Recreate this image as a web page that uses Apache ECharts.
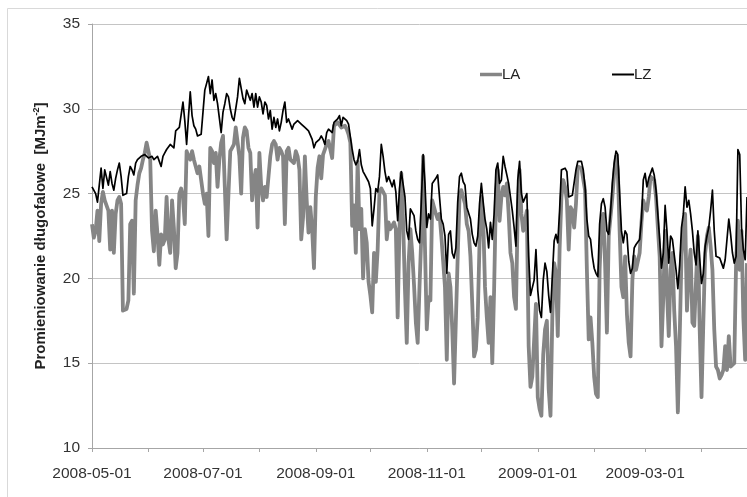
<!DOCTYPE html>
<html lang="pl">
<head>
    <meta charset="UTF-8">
    <meta name="viewport" content="width=device-width, initial-scale=1.0">
    <script src="https://cdn.jsdelivr.net/npm/echarts@6/dist/echarts.min.js"></script>
    <style>
        html, body { margin: 0; padding: 0; background: #fff; }
        #chart { width: 747px; height: 497px; }
    </style>
    <title>LA / LZ</title>
</head>
<body>
<div id="chart"></div>
<script type="text/javascript">
    // dzienne wartosci od 2008-05-01
    var tickLabels = ['2008-05-01', '2008-07-01', '2008-09-01', '2008-11-01', '2009-01-01', '2009-03-01'];

    var seriesLA = [
        23.2, 22.4, 22.8, 24.0, 22.2, 24.4, 25.1, 24.6, 24.7, 24.0,
        21.7, 24.0, 21.5, 23.8, 24.6, 24.8, 24.4, 18.1, 18.1, 18.2,
        18.7, 23.2, 23.4, 19.1, 24.6, 25.5, 26.2, 26.5, 27.0, 27.4,
        28.0, 28.1, 27.0, 22.8, 21.6, 24.0, 22.6, 20.8, 22.6, 22.0,
        22.3, 24.8, 22.3, 21.5, 24.6, 23.0, 20.6, 21.5, 25.0, 25.3,
        24.8, 23.2, 27.5, 27.2, 27.0, 27.5, 27.0, 26.6, 26.2, 26.6,
        25.8, 25.0, 24.4, 25.0, 22.5, 27.7, 27.5, 26.8, 27.4, 25.4,
        27.0, 28.0, 28.4, 25.4, 22.3, 25.0, 27.5, 27.7, 27.9, 28.9,
        29.0, 27.2, 25.0, 28.3, 28.9, 28.7, 27.7, 27.4, 24.6, 25.8,
        26.4, 23.0, 27.4, 25.4, 24.6, 25.4, 24.8, 26.0, 27.2, 27.9,
        28.1, 27.9, 27.0, 27.7, 27.5, 27.2, 23.2, 27.5, 27.7, 27.0,
        26.9, 26.8, 27.5, 27.2, 26.4, 22.3, 23.6, 27.2, 24.6, 22.7,
        24.2, 22.9, 20.6, 24.8, 26.5, 27.2, 25.9, 27.3, 27.4, 27.9,
        28.1, 28.2, 27.1, 29.0, 29.1, 29.2, 29.2, 28.9, 28.9, 29.0,
        28.8, 28.5, 28.0, 23.1, 24.3, 21.5, 26.9, 22.9, 24.1, 20.0,
        22.9, 22.1, 19.8, 19.0, 18.0, 21.5, 19.8, 21.7, 25.1, 25.3,
        25.1, 24.9, 22.3, 23.3, 22.9, 23.0, 23.3, 22.9, 17.7, 22.9,
        26.2, 23.3, 19.4, 16.2, 20.9, 22.9, 21.5, 19.6, 17.4, 16.2,
        19.5, 22.5, 27.2, 21.9, 17.0, 18.9, 18.7, 24.6, 24.2, 23.8,
        23.5, 23.8, 22.5, 21.0, 19.5, 15.2, 20.3, 19.5, 17.0, 13.8,
        13.8, 21.3, 24.8, 25.2, 24.8, 24.4, 23.2, 22.8, 21.3, 18.5,
        15.4, 15.8, 17.7, 22.1, 24.8, 23.6, 19.5, 17.7, 16.2, 18.9,
        15.0, 19.3, 24.8, 26.4, 23.4, 24.8, 25.4, 24.9, 25.6, 23.8,
        21.5, 20.9, 18.9, 18.2, 24.0, 26.4, 23.8, 22.8, 23.4, 24.0,
        16.0, 13.6, 14.2, 14.1, 18.5, 13.0, 12.3, 11.9, 15.5, 17.0,
        17.5, 13.5, 11.9, 17.7, 20.9, 20.3, 16.6, 21.7, 24.8, 25.8,
        25.4, 24.6, 21.7, 24.2, 24.0, 23.0, 24.4, 26.6, 26.6, 26.5,
        26.4, 25.2, 20.5, 16.4, 17.7, 16.2, 14.2, 13.2, 13.0, 20.5,
        23.4, 23.8, 20.9, 16.8, 22.5, 22.6, 24.8, 26.2, 27.2, 26.4,
        22.8, 19.5, 18.9, 21.3, 17.9, 16.2, 15.4, 19.9, 21.3, 20.5,
        20.5, 21.5, 23.3, 24.6, 24.2, 24.0, 24.8, 26.0, 26.0, 25.8,
        24.8, 23.0, 21.3, 16.0, 18.9, 22.8, 19.3, 16.6, 20.5, 21.5,
        18.1, 16.0, 12.1, 16.5, 21.3, 22.8, 23.8, 18.1, 20.5, 21.7,
        17.4, 17.2, 19.9, 22.5, 17.0, 13.0, 17.4, 21.5, 22.5, 23.0,
        21.9, 20.5, 17.0, 14.8, 14.6, 14.1, 14.3, 14.6, 16.0, 14.6,
        16.6, 14.8, 14.9, 15.0, 20.9, 23.4, 20.5, 22.8, 17.7, 15.2,
        20.9
    ];

    var seriesLZ = [
        25.4, 25.3, 25.0, 24.5, 24.6, 26.5, 25.3, 26.4, 26.5, 25.5,
        26.3, 25.6, 25.2, 25.9, 26.4, 26.8, 26.0, 24.9, 24.9, 25.0,
        26.0, 26.6, 26.4, 26.1, 26.8, 27.0, 27.1, 27.2, 27.2, 27.3,
        27.3, 27.1, 27.2, 27.2, 27.0, 27.1, 27.2, 26.9, 26.6, 27.2,
        27.4, 27.6, 27.6, 27.9, 27.8, 27.7, 28.7, 28.8, 28.9, 29.0,
        30.4, 29.3, 27.9, 29.5, 31.0, 29.6, 29.0, 28.8, 28.4, 28.4,
        28.5, 29.8, 31.1, 31.5, 31.9, 30.9, 31.7, 30.5, 30.9, 30.3,
        30.4, 28.6, 29.8, 30.3, 30.9, 30.7, 30.0, 29.5, 29.3, 29.3,
        30.7, 31.8, 31.2, 30.6, 30.3, 31.1, 30.8, 30.5, 30.9, 30.1,
        30.9, 30.1, 30.7, 30.4, 29.7, 30.4, 30.2, 29.4, 29.9, 28.8,
        29.5, 28.9, 29.4, 28.7, 29.2, 29.9, 30.4, 29.2, 29.4, 29.1,
        28.8, 29.1, 29.2, 29.3, 29.2, 29.1, 29.1, 28.9, 28.8, 28.7,
        28.6, 28.2, 27.7, 28.0, 28.1, 28.2, 28.4, 28.2, 27.9, 28.6,
        28.8, 28.9, 28.6, 29.2, 29.3, 29.4, 29.6, 29.0, 29.5, 29.6,
        29.3, 29.1, 29.0, 27.6, 27.0, 26.7, 26.9, 27.6, 26.7, 26.3,
        26.1, 26.0, 25.7, 25.3, 23.1, 24.1, 25.3, 25.1, 26.0, 27.9,
        27.2, 26.3, 25.7, 26.0, 26.1, 25.4, 25.8, 25.1, 23.4, 25.3,
        26.3, 26.3, 24.8, 22.8, 22.3, 24.1, 24.0, 23.7, 22.8, 22.3,
        22.1, 24.5, 27.3, 25.6, 23.0, 23.8, 23.5, 25.6, 25.5, 25.9,
        26.1, 26.2, 23.5, 23.2, 22.5, 20.3, 22.6, 22.8, 21.5, 21.2,
        21.8, 24.5, 26.0, 26.2, 25.7, 25.5, 24.2, 24.1, 23.5, 22.6,
        22.1, 21.9, 22.5, 24.4, 25.6, 24.5, 23.5, 22.9, 21.8, 23.3,
        22.3, 23.8, 26.4, 26.8, 25.6, 25.8, 27.2, 26.6, 26.1, 25.6,
        24.8, 24.0, 23.0, 21.9, 25.8, 26.9, 25.0, 24.5, 24.6, 25.0,
        21.3, 19.0, 19.1, 19.9, 21.7, 19.3, 18.1, 17.7, 19.9, 20.9,
        20.4, 19.0, 18.0, 17.9, 22.2, 22.6, 22.1, 24.0, 26.4, 26.5,
        26.5, 26.3, 24.8, 24.8, 24.9, 25.0, 26.4, 26.9, 26.8, 26.9,
        26.4, 25.4, 23.5, 22.5, 22.3, 21.3, 20.6, 20.3, 20.1, 23.2,
        24.4, 24.7, 24.2, 22.8, 22.6, 23.9, 25.6, 26.8, 27.5, 27.3,
        25.0, 22.8, 22.1, 22.8, 22.6, 21.0, 20.3, 20.6, 21.8, 22.0,
        22.1, 22.3, 23.5, 25.8, 26.2, 25.4, 25.9, 26.2, 26.5, 26.1,
        25.2, 23.8, 22.3, 20.6, 21.5, 24.3, 22.8, 20.9, 22.5, 22.3,
        22.3, 20.5, 19.4, 20.8, 23.0, 23.8, 25.4, 24.2, 24.6, 23.8,
        22.8, 21.5, 20.8, 22.8, 21.2, 19.7, 20.3, 21.9, 22.5, 23.0,
        24.0, 25.2, 22.8, 21.3, 21.3, 21.2, 20.9, 20.6, 21.1, 21.0,
        23.5, 22.6, 21.5, 20.9, 21.3, 27.6, 27.3, 23.0, 21.7, 21.1,
        24.8
    ];

    // kolejne dni jako kategorie osi X
    var days = [];
    var t0 = Date.UTC(2008, 4, 1);
    for (var i = 0; i < seriesLZ.length; i++) {
        days.push(new Date(t0 + i * 86400000).toISOString().slice(0, 10));
    }

    var chart = echarts.init(document.getElementById('chart'));
    var font = '"Liberation Sans", Arial, sans-serif';

    var option = {
        animation: false,
        backgroundColor: '#ffffff',
        textStyle: { fontFamily: font },
        graphic: [{
            type: 'rect',
            shape: { x: 7.5, y: 8.5, width: 800, height: 600 },
            style: { fill: 'none', stroke: '#d9d9d9', lineWidth: 1 },
            silent: true
        }],
        legend: [{
            data: ['LA'],
            left: 475, top: 62,
            icon: 'rect', itemWidth: 22, itemHeight: 3.5, itemGap: 0,
            textStyle: { fontSize: 15, color: '#222', fontFamily: font, padding: [0, 0, 0, -5] }
        }, {
            data: ['LZ'],
            left: 607, top: 62,
            icon: 'rect', itemWidth: 22, itemHeight: 2, itemGap: 0,
            textStyle: { fontSize: 15, color: '#222', fontFamily: font, padding: [0, 0, 0, -5] }
        }],
        grid: { left: 92, top: 24, width: 657, height: 424 },
        xAxis: {
            type: 'category',
            data: days,
            boundaryGap: false,
            axisLine: { lineStyle: { color: '#a6a6a6', width: 1 } },
            axisTick: {
                interval: function (index, value) { return value.slice(8) === '01'; },
                length: 4,
                lineStyle: { color: '#a6a6a6' }
            },
            axisLabel: {
                interval: function (index, value) { return tickLabels.indexOf(value) >= 0; },
                fontSize: 15.5, color: '#333', margin: 18, fontFamily: font
            },
            splitLine: { show: false }
        },
        yAxis: {
            type: 'value',
            min: 10, max: 35, interval: 5,
            name: 'Promieniowanie długofalowe  [MJm{s|-2}]',
            nameLocation: 'middle',
            nameGap: 43,
            nameTextStyle: {
                fontSize: 15, fontWeight: 'bold', color: '#222', fontFamily: font,
                rich: { s: { fontSize: 9, fontWeight: 'bold', color: '#222', padding: [0, 0, 8, 0] } }
            },
            axisLine: { show: true, lineStyle: { color: '#a6a6a6' } },
            axisTick: { show: true, length: 4, lineStyle: { color: '#a6a6a6' } },
            axisLabel: { fontSize: 15.5, color: '#333', margin: 12, fontFamily: font },
            splitLine: { lineStyle: { color: '#c4c4c4', width: 1 } }
        },
        series: [{
            name: 'LA',
            type: 'line',
            data: seriesLA,
            showSymbol: false,
            color: '#858585',
            lineStyle: { color: '#858585', width: 3.8, join: 'round' },
            z: 2
        }, {
            name: 'LZ',
            type: 'line',
            data: seriesLZ,
            showSymbol: false,
            color: '#000000',
            lineStyle: { color: '#000000', width: 1.7, join: 'round' },
            z: 3
        }]
    };

    chart.setOption(option);
</script>
</body>
</html>
